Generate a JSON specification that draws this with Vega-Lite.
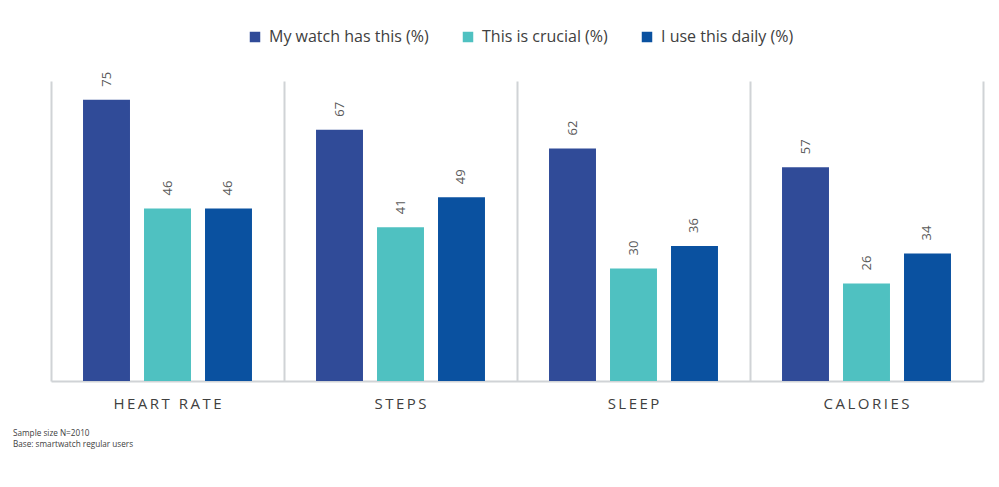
{
  "$schema": "https://vega.github.io/schema/vega-lite/v6.json",
  "width": 932,
  "height": 300,
  "autosize": "none",
  "padding": {"left": 51, "top": 81, "right": 16, "bottom": 106},
  "background": "white",
  "config": {
    "font": "Open Sans",
    "view": {"stroke": null}
  },
  "title": {
    "text": ["Sample size N=2010", "Base: smartwatch regular users"],
    "orient": "bottom",
    "anchor": "start",
    "frame": "group",
    "dx": -38,
    "offset": 19,
    "fontSize": 8.2,
    "fontWeight": "normal",
    "color": "#404040",
    "lineHeight": 11,
    "font": "Open Sans"
  },
  "data": {
    "values": [
      {"metric": "HEART RATE", "series": "My watch has this (%)", "value": 75},
      {"metric": "HEART RATE", "series": "This is crucial (%)", "value": 46},
      {"metric": "HEART RATE", "series": "I use this daily (%)", "value": 46},
      {"metric": "STEPS", "series": "My watch has this (%)", "value": 67},
      {"metric": "STEPS", "series": "This is crucial (%)", "value": 41},
      {"metric": "STEPS", "series": "I use this daily (%)", "value": 49},
      {"metric": "SLEEP", "series": "My watch has this (%)", "value": 62},
      {"metric": "SLEEP", "series": "This is crucial (%)", "value": 30},
      {"metric": "SLEEP", "series": "I use this daily (%)", "value": 36},
      {"metric": "CALORIES", "series": "My watch has this (%)", "value": 57},
      {"metric": "CALORIES", "series": "This is crucial (%)", "value": 26},
      {"metric": "CALORIES", "series": "I use this daily (%)", "value": 34}
    ]
  },
  "encoding": {
    "x": {
      "field": "metric",
      "type": "nominal",
      "sort": ["HEART RATE", "STEPS", "SLEEP", "CALORIES"],
      "scale": {"paddingInner": 0, "paddingOuter": 0},
      "axis": {
        "title": null,
        "labelAngle": 0,
        "labelFontSize": 15,
        "labelColor": "#404040",
        "labelPadding": 15,
        "labelExpr": "join(split(datum.label, ''), '\u2009')",
        "ticks": false,
        "domain": true,
        "domainColor": "#d0d3d6",
        "domainWidth": 2,
        "grid": true,
        "bandPosition": 0,
        "gridColor": "#d0d3d6",
        "gridWidth": 2
      }
    },
    "xOffset": {
      "field": "series",
      "type": "nominal",
      "sort": ["My watch has this (%)", "This is crucial (%)", "I use this daily (%)"],
      "scale": {"paddingInner": 0.23, "paddingOuter": 0.525}
    },
    "y": {
      "field": "value",
      "type": "quantitative",
      "scale": {"domain": [0, 80], "nice": false},
      "axis": {
        "orient": "right",
        "title": null,
        "labels": false,
        "ticks": false,
        "grid": false,
        "domain": true,
        "domainColor": "#d0d3d6",
        "domainWidth": 2
      }
    }
  },
  "layer": [
    {
      "mark": {"type": "bar"},
      "encoding": {
        "color": {
          "field": "series",
          "type": "nominal",
          "sort": ["My watch has this (%)", "This is crucial (%)", "I use this daily (%)"],
          "scale": {
            "domain": ["My watch has this (%)", "This is crucial (%)", "I use this daily (%)"],
            "range": ["#304b98", "#4fc1c1", "#0a51a0"]
          },
          "legend": {
            "title": null,
            "orient": "none",
            "direction": "horizontal",
            "legendX": 196,
            "legendY": -52,
            "symbolType": "square",
            "symbolSize": 110,
            "symbolStrokeWidth": 0,
            "labelFontSize": 16,
            "labelColor": "#404040",
            "labelFont": "Open Sans",
            "labelLimit": 300,
            "columnPadding": 31,
            "labelOffset": 6
          }
        }
      }
    },
    {
      "mark": {
        "type": "text",
        "angle": 270,
        "align": "left",
        "baseline": "middle",
        "dx": 13,
        "fontSize": 13,
        "color": "#595959"
      },
      "encoding": {
        "text": {"field": "value", "type": "quantitative"}
      }
    }
  ]
}
